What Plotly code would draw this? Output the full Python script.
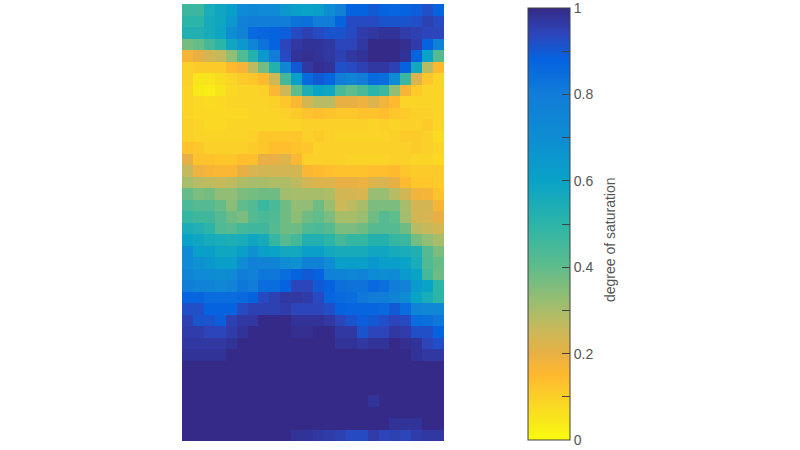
import plotly.graph_objects as go

# degree of saturation, top row first, 24 columns
rows_top = [
    [.47,.47,.55,.58,.62,.72,.74,.72,.72,.65,.62,.60,.62,.70,.78,.88,.88,.90,.88,.87,.88,.89,.92,.88],
    [.50,.50,.56,.58,.65,.78,.80,.80,.80,.80,.83,.84,.80,.80,.88,.93,.93,.93,.91,.91,.91,.92,.95,.93],
    [.53,.53,.56,.59,.70,.76,.86,.87,.88,.89,.93,.95,.93,.91,.91,.93,.96,.97,.98,.98,.96,.95,.94,.94],
    [.37,.39,.45,.50,.58,.65,.75,.83,.88,.94,.97,.98,.98,.97,.94,.94,.97,1,1,1,.99,.96,.88,.78],
    [.17,.20,.24,.26,.33,.43,.52,.65,.80,.93,.98,.99,.98,.97,.95,.97,.98,1,1,1,.98,.88,.60,.42],
    [.10,.11,.11,.11,.15,.17,.27,.37,.52,.75,.90,.97,.99,.98,.92,.93,.95,.97,.97,.95,.88,.57,.28,.15],
    [.10,.05,.05,.07,.09,.11,.12,.15,.25,.45,.62,.86,.90,.87,.80,.76,.80,.86,.85,.72,.47,.22,.12,.09],
    [.09,.04,.03,.05,.08,.09,.09,.10,.16,.25,.40,.54,.60,.58,.44,.40,.44,.50,.47,.33,.17,.11,.09,.09],
    [.09,.08,.07,.08,.09,.09,.09,.09,.10,.12,.16,.24,.28,.28,.20,.20,.19,.22,.18,.15,.09,.09,.09,.09],
    [.09,.08,.08,.08,.08,.08,.09,.09,.09,.10,.11,.13,.14,.13,.12,.12,.13,.13,.14,.12,.11,.10,.10,.09],
    [.10,.09,.08,.08,.09,.09,.09,.09,.09,.09,.09,.10,.10,.10,.10,.10,.10,.09,.10,.09,.10,.10,.11,.09],
    [.10,.09,.09,.09,.09,.09,.10,.12,.12,.12,.12,.10,.11,.10,.09,.09,.09,.09,.09,.10,.11,.11,.10,.07],
    [.13,.12,.10,.10,.10,.10,.11,.12,.14,.14,.13,.12,.10,.10,.10,.10,.10,.10,.10,.10,.10,.11,.10,.09],
]
rows_middle = [
    [.20,.13,.13,.12,.12,.14,.14,.20,.20,.22,.16,.10,.10,.10,.10,.09,.09,.09,.09,.10,.10,.09,.09,.08],
    [.26,.19,.17,.16,.16,.20,.23,.24,.24,.24,.24,.16,.15,.14,.13,.13,.13,.14,.14,.15,.12,.11,.11,.11],
    [.30,.28,.27,.26,.27,.29,.30,.30,.29,.29,.27,.24,.22,.22,.20,.20,.19,.22,.23,.20,.15,.12,.12,.11],
    [.39,.36,.37,.33,.33,.36,.37,.38,.38,.31,.30,.30,.30,.29,.24,.24,.23,.32,.32,.28,.24,.18,.17,.13],
    [.44,.42,.42,.39,.34,.40,.42,.47,.44,.38,.33,.33,.38,.32,.25,.27,.30,.36,.36,.36,.30,.24,.24,.17],
    [.48,.46,.46,.42,.38,.36,.42,.44,.43,.38,.34,.38,.40,.36,.30,.30,.32,.38,.42,.40,.31,.24,.23,.20],
    [.55,.53,.50,.43,.42,.45,.46,.46,.42,.38,.38,.43,.44,.42,.36,.36,.38,.42,.42,.42,.38,.28,.26,.24],
    [.60,.58,.56,.55,.54,.55,.58,.56,.48,.42,.45,.53,.53,.50,.45,.48,.48,.52,.52,.48,.47,.37,.33,.30],
    [.72,.62,.62,.58,.58,.62,.68,.62,.60,.57,.57,.62,.62,.57,.56,.56,.56,.58,.58,.56,.55,.53,.42,.36],
    [.72,.68,.66,.62,.62,.70,.78,.76,.76,.70,.68,.78,.78,.70,.62,.62,.62,.66,.62,.62,.60,.55,.43,.39],
    [.75,.72,.72,.70,.72,.80,.78,.82,.82,.85,.88,.90,.88,.78,.76,.74,.76,.72,.70,.72,.64,.60,.45,.38],
    [.80,.76,.76,.74,.76,.82,.80,.85,.85,.88,.94,.94,.90,.88,.84,.83,.83,.86,.84,.80,.76,.64,.60,.50],
]
rows_bottom = [
    [.87,.87,.85,.85,.85,.86,.88,.93,.95,.97,.97,.96,.93,.87,.86,.85,.82,.80,.80,.76,.70,.60,.55,.50],
    [.92,.92,.88,.88,.88,.93,.95,.95,.95,.96,.94,.94,.94,.92,.88,.87,.87,.87,.86,.90,.85,.76,.74,.74],
    [.95,.91,.91,.89,.95,.97,.97,1,1,1,.98,.98,.98,.97,.94,.91,.89,.90,.92,.94,.93,.85,.84,.82],
    [.96,.96,.94,.94,.96,.98,1,1,1,1,.99,.99,1,1,.97,.97,.91,.94,.94,.97,.96,.92,.92,.88],
    [.97,.97,.97,.97,.98,1,1,1,1,1,1,1,1,1,.98,.98,.97,.98,.98,1,.99,.98,.94,.92],
    [.98,.98,.98,.98,1,1,1,1,1,1,1,1,1,1,1,1,1,1,1,1,1,.98,.97,.97],
    [1,1,1,1,1,1,1,1,1,1,1,1,1,1,1,1,1,1,1,1,1,1,1,1],
    [1,1,1,1,1,1,1,1,1,1,1,1,1,1,1,1,1,1,1,1,1,1,1,1],
    [1,1,1,1,1,1,1,1,1,1,1,1,1,1,1,1,1,1,1,1,1,1,1,1],
    [1,1,1,1,1,1,1,1,1,1,1,1,1,1,1,1,1,.98,1,1,1,1,1,1],
    [1,1,1,1,1,1,1,1,1,1,1,1,1,1,1,1,1,1,1,1,1,1,1,1],
    [1,1,1,1,1,1,1,1,1,1,1,1,1,1,1,1,1,1,1,.98,.98,.98,1,1],
    [1,1,1,1,1,1,1,1,1,1,.98,.98,.97,.96,.95,.93,.93,.96,.94,.95,.94,.96,.97,.97],
]
saturation = rows_top + rows_middle + rows_bottom

tick_values = [0, .1, .2, .3, .4, .5, .6, .7, .8, .9, 1]
tick_labels = ["0", "", "0.2", "", "0.4", "", "0.6", "", "0.8", "", "1"]

# reversed parula, picked off the colorbar
parula_r = [
    [0.00, "#f9fb0e"], [0.05, "#f8e41c"], [0.10, "#fbd028"], [0.15, "#ffb92f"],
    [0.20, "#e8b044"], [0.25, "#cdb858"], [0.30, "#a8bd6a"], [0.40, "#5fbc8b"],
    [0.50, "#2bb4a8"], [0.60, "#09a3c7"], [0.70, "#0e8dd3"], [0.80, "#127dd8"],
    [0.88, "#0563e0"], [0.94, "#2d45bb"], [1.00, "#352a87"],
]

fig = go.Figure(go.Heatmap(
    z=saturation, zmin=0, zmax=1, colorscale=parula_r,
    colorbar=dict(
        x=528/800, xanchor="left", xpad=0, thickness=42, thicknessmode="pixels",
        y=10/450, yanchor="bottom", ypad=0, len=432/450, lenmode="fraction",
        tickmode="array", tickvals=tick_values, ticktext=tick_labels,
        ticks="inside", ticklen=8, tickcolor="#404040", tickwidth=1,
        ticklabeloverflow="allow",
        tickfont=dict(family="Liberation Sans", size=14, color="#555555"),
        outlinecolor="#404040", outlinewidth=1,
    ),
))
fig.update_xaxes(visible=False, domain=[182/800, 444/800])
fig.update_yaxes(visible=False, domain=[9/450, 446/450], autorange="reversed")
fig.add_annotation(text="degree of saturation", xref="paper", yref="paper",
                   x=610/800, y=210/450, xanchor="center", yanchor="middle",
                   showarrow=False, textangle=-90,
                   font=dict(family="Liberation Sans", size=14, color="#555555"))
fig.update_layout(width=800, height=450, paper_bgcolor="white", plot_bgcolor="white",
                  margin=dict(l=0, r=0, t=0, b=0, autoexpand=False))
# page has a default 8px body margin
fig.write_html("out.html", config={"displayModeBar": False},
               post_script="document.body.style.margin='0'")
